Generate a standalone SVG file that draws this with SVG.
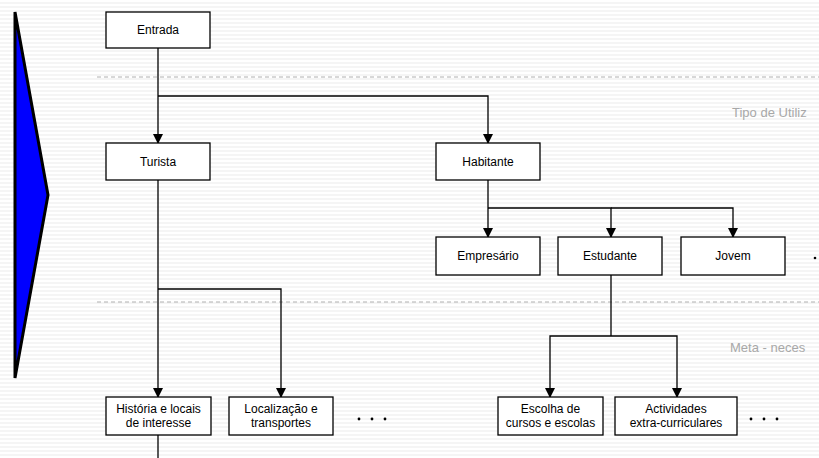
<svg xmlns="http://www.w3.org/2000/svg" width="819" height="458" viewBox="0 0 819 458">
<defs>
<pattern id="stripes" width="8" height="4" patternUnits="userSpaceOnUse">
<rect width="8" height="4" fill="#ffffff"/>
<rect y="2" width="8" height="2" fill="#f5f5f5"/>
</pattern>
<marker id="arr" markerWidth="10" markerHeight="10" refX="9" refY="5" orient="auto" markerUnits="userSpaceOnUse">
<path d="M0,0 L10,5 L0,10 Z" fill="#000"/>
</marker>
<style>
.box{fill:#ffffff;stroke:#000;stroke-width:1.3}
.lbl{font-family:"Liberation Sans",Arial,sans-serif;font-size:12px;fill:#000;text-anchor:middle}
.conn{fill:none;stroke:#000;stroke-width:1.3}
.dash{stroke:#b0b0b0;stroke-width:1;stroke-dasharray:4,3}
.side{font-family:"Liberation Sans",Arial,sans-serif;font-size:13px;fill:#a8a8a8}
.dot{fill:#000}
</style>
</defs>
<rect width="819" height="458" fill="url(#stripes)"/>
<g id="pointer">
<polygon points="15,12 48,195 15,378" fill="#0000ff" stroke="#000" stroke-width="3" stroke-linejoin="miter"/>
</g>
<g id="separators">
<line class="dash" x1="97" y1="77" x2="819" y2="77"/>
<line class="dash" x1="97" y1="302" x2="819" y2="302"/>
<text class="side" x="732" y="117">Tipo de Utiliz</text>
<text class="side" x="730" y="352">Meta - neces</text>
</g>
<g id="connectors">
<path class="conn" d="M158,48 V143" marker-end="url(#arr)"/>
<path class="conn" d="M158,96 H488 V143" marker-end="url(#arr)"/>
<path class="conn" d="M488,180 V237" marker-end="url(#arr)"/>
<path class="conn" d="M488,208 H611 V237" marker-end="url(#arr)"/>
<path class="conn" d="M611,208 H733 V237" marker-end="url(#arr)"/>
<path class="conn" d="M158,180 V397" marker-end="url(#arr)"/>
<path class="conn" d="M158,289 H281 V397" marker-end="url(#arr)"/>
<path class="conn" d="M611,275 V336"/>
<path class="conn" d="M611,336 H550 V397" marker-end="url(#arr)"/>
<path class="conn" d="M611,336 H677 V397" marker-end="url(#arr)"/>
<path class="conn" d="M158,435 V458"/>
</g>
<g id="entrada"><rect class="box" x="106" y="12" width="104" height="36"/><text class="lbl" x="158" y="34">Entrada</text></g>
<g id="turista"><rect class="box" x="106" y="143" width="104" height="37"/><text class="lbl" x="158" y="166">Turista</text></g>
<g id="habitante"><rect class="box" x="436" y="143" width="104" height="37"/><text class="lbl" x="488" y="166">Habitante</text></g>
<g id="empresario"><rect class="box" x="436" y="237" width="104" height="38"/><text class="lbl" x="488" y="260">Empresário</text></g>
<g id="estudante"><rect class="box" x="558" y="237" width="104" height="38"/><text class="lbl" x="610" y="260">Estudante</text></g>
<g id="jovem"><rect class="box" x="681" y="237" width="104" height="38"/><text class="lbl" x="733" y="260">Jovem</text></g>
<g id="more-habitante"><circle class="dot" cx="815" cy="258" r="1.3"/></g>
<g id="historia"><rect class="box" x="106" y="397" width="105" height="38"/><text class="lbl" x="158.5" y="413">História e locais</text><text class="lbl" x="158.5" y="427">de interesse</text></g>
<g id="localizacao"><rect class="box" x="229" y="397" width="104" height="38"/><text class="lbl" x="281" y="413">Localização e</text><text class="lbl" x="281" y="427">transportes</text></g>
<g id="more-turista"><circle class="dot" cx="359" cy="419" r="1.4"/><circle class="dot" cx="372" cy="419" r="1.4"/><circle class="dot" cx="385" cy="419" r="1.4"/></g>
<g id="escolha"><rect class="box" x="498" y="397" width="105" height="38"/><text class="lbl" x="550.5" y="413">Escolha de</text><text class="lbl" x="550.5" y="427">cursos e escolas</text></g>
<g id="actividades"><rect class="box" x="615" y="397" width="122" height="38"/><text class="lbl" x="676" y="413">Actividades</text><text class="lbl" x="676" y="427">extra-curriculares</text></g>
<g id="more-estudante"><circle class="dot" cx="751" cy="419" r="1.4"/><circle class="dot" cx="764" cy="419" r="1.4"/><circle class="dot" cx="777" cy="419" r="1.4"/></g>
</svg>
